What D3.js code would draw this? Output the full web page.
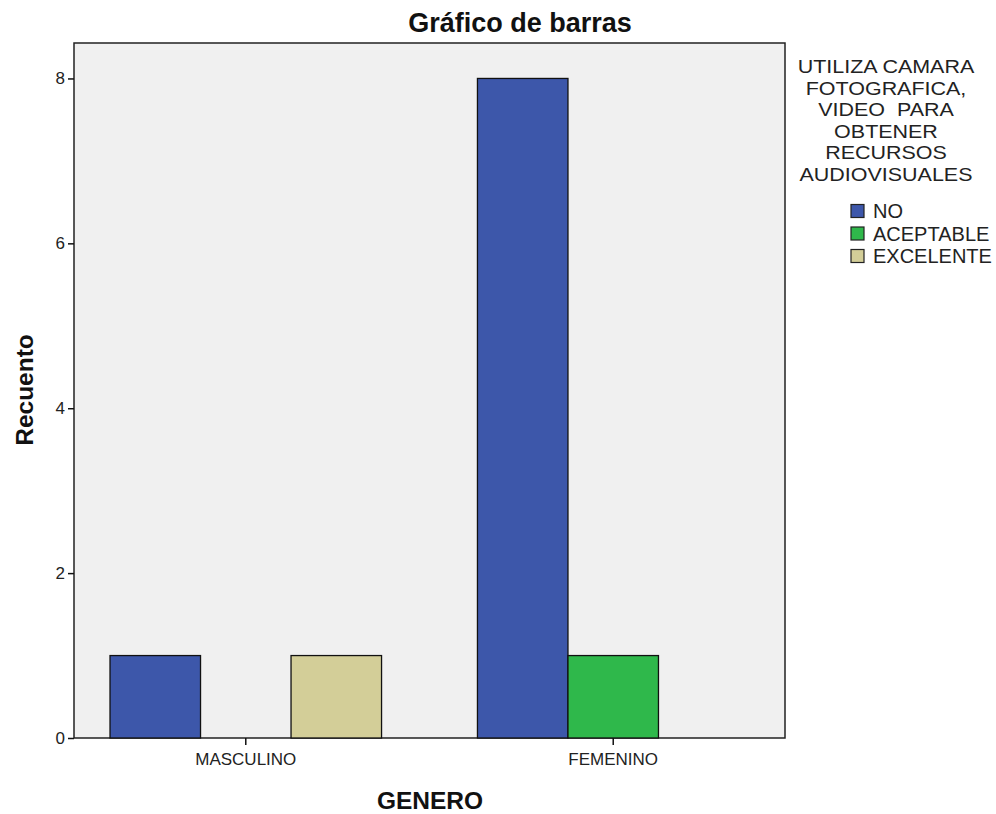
<!DOCTYPE html>
<html>
<head>
<meta charset="utf-8">
<script src="https://cdn.jsdelivr.net/npm/d3@7"></script>
<style>
  body { margin: 0; background: #ffffff; }
  svg { display: block; font-family: Arial, "Liberation Sans", sans-serif; }
</style>
</head>
<body>
<svg id="chart" width="996" height="814"></svg>
<script>
const categories = ["MASCULINO", "FEMENINO"];
const seriesNames = ["NO", "ACEPTABLE", "EXCELENTE"];
const valuesNO = [1, 8];
const valuesACEPTABLE = [0, 1];
const valuesEXCELENTE = [1, 0];
const yTicks = [0, 2, 4, 6, 8];
const colors = ["#3d57aa", "#2fb84b", "#d3ce98"];
const legendTitle = ["UTILIZA CAMARA", "FOTOGRAFICA,", "VIDEO  PARA", "OBTENER", "RECURSOS", "AUDIOVISUALES"];

const seriesValues = [valuesNO, valuesACEPTABLE, valuesEXCELENTE];

const svg = d3.select("#chart");
const plot = { left: 74, right: 785, top: 43, bottom: 738 };

const x0 = d3.scaleBand().domain(categories).range([plot.left, plot.right])
  .paddingInner(0.261).paddingOuter(0.098);
const x1 = d3.scaleBand().domain(seriesNames).range([0, x0.bandwidth()]).padding(0);
const y = d3.scaleLinear().domain([0, 8.43]).range([plot.bottom, plot.top]);

// title
svg.append("text").attr("x", 520).attr("y", 32).attr("text-anchor", "middle")
  .attr("font-size", 27).attr("font-weight", "bold").attr("fill", "#111")
  .text("Gráfico de barras");

// plot background
svg.append("rect").attr("x", plot.left).attr("y", plot.top)
  .attr("width", plot.right - plot.left).attr("height", plot.bottom - plot.top)
  .attr("fill", "#f0f0f0").attr("stroke", "#222").attr("stroke-width", 1.5);

// bars
const rows = [];
categories.forEach((c, i) => {
  seriesNames.forEach((s, j) => {
    rows.push({ cat: c, ser: s, val: seriesValues[j][i], color: colors[j] });
  });
});
svg.append("g").selectAll("rect").data(rows.filter(d => d.val > 0)).join("rect")
  .attr("x", d => x0(d.cat) + x1(d.ser))
  .attr("y", d => y(d.val))
  .attr("width", x1.bandwidth())
  .attr("height", d => y(0) - y(d.val))
  .attr("fill", d => d.color)
  .attr("stroke", "#111").attr("stroke-width", 1.3);

// y axis
const yAxis = d3.axisLeft(y).tickValues(yTicks).tickSize(6).tickPadding(3).tickFormat(d3.format("d"));
const gy = svg.append("g").attr("transform", `translate(${plot.left},0)`).call(yAxis);
gy.select(".domain").remove();
gy.selectAll(".tick line").attr("stroke", "#111").attr("stroke-width", 1.5);
gy.selectAll(".tick text").attr("font-size", 17).attr("fill", "#222")
  .attr("font-family", "Arial, 'Liberation Sans', sans-serif");

// x axis
const xAxis = d3.axisBottom(x0).tickSize(7).tickPadding(8);
const gx = svg.append("g").attr("transform", `translate(0,${plot.bottom})`).call(xAxis);
gx.select(".domain").remove();
gx.selectAll(".tick line").attr("stroke", "#111").attr("stroke-width", 1.5);
gx.selectAll(".tick text").attr("font-size", 17).attr("fill", "#222")
  .attr("font-family", "Arial, 'Liberation Sans', sans-serif");

// axis titles
svg.append("text").attr("x", 430).attr("y", 809).attr("text-anchor", "middle")
  .attr("font-size", 24.5).attr("font-weight", "bold").attr("fill", "#111").text("GENERO");
svg.append("text").attr("transform", "translate(33,390) rotate(-90)").attr("text-anchor", "middle")
  .attr("font-size", 24.5).attr("font-weight", "bold").attr("fill", "#111").text("Recuento");

// legend
const lg = svg.append("g");
lg.selectAll("text.lt").data(legendTitle).join("text").attr("class", "lt")
  .attr("transform", (d, i) => `translate(886,${73 + i * 21.6}) scale(1.13,1)`)
  .attr("text-anchor", "middle").attr("font-size", 19).attr("fill", "#222")
  .attr("xml:space", "preserve").style("white-space", "pre")
  .text(d => d);
const items = lg.selectAll("g.item").data(seriesNames).join("g").attr("class", "item")
  .attr("transform", (d, i) => `translate(851,${211 + i * 22.5})`);
items.append("rect").attr("x", 0).attr("y", -6.5).attr("width", 13).attr("height", 13)
  .attr("fill", (d, i) => colors[i]).attr("stroke", "#222").attr("stroke-width", 1.2);
items.append("text").attr("x", 22).attr("y", 7).attr("font-size", 20).attr("fill", "#222")
  .text(d => d);
</script>
</body>
</html>
